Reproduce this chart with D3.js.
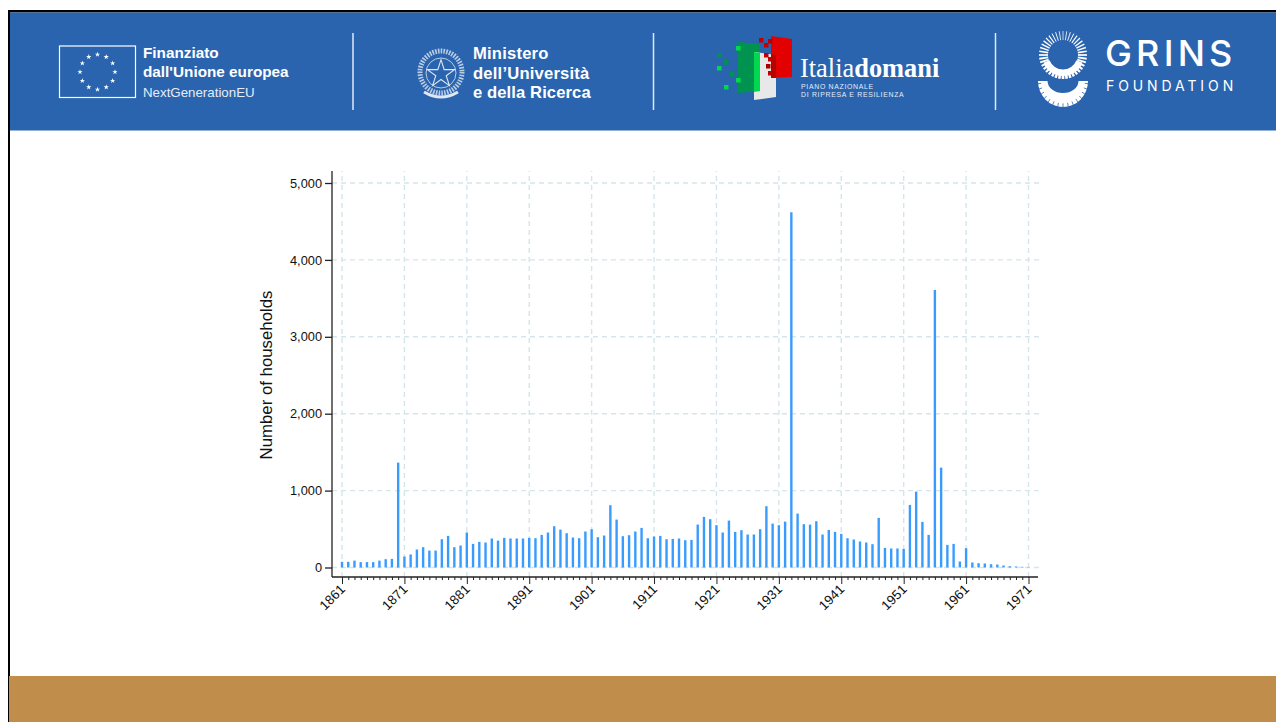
<!DOCTYPE html>
<html>
<head>
<meta charset="utf-8">
<script src="https://cdn.jsdelivr.net/npm/d3@7"></script>
<style>
html,body{margin:0;padding:0;background:#fff;}
svg{display:block;}
</style>
</head>
<body>
<div id="container"></div>
<script>
// households per year
const years = d3.range(1861, 1972);
const households = [
  74,74,90,70,70,70,90,108,112,1364,
  143,170,234,264,220,220,368,411,264,286,
  455,307,333,325,377,350,385,377,377,377,
  385,381,424,455,537,493,446,390,381,468,
  498,394,416,810,623,407,420,468,515,381,
  403,411,368,372,377,355,359,558,658,628,
  550,455,610,463,485,429,429,498,797,571,
  550,597,4620,701,563,558,602,429,489,463,
  437,381,364,338,325,303,645,255,247,247,
  242,814,987,593,424,3608,1299,294,307,78,
  251,65,56,52,43,39,26,17,13,9,4
];
const yTicks = [0,1000,2000,3000,4000,5000];
const xTicks = [1861,1871,1881,1891,1901,1911,1921,1931,1941,1951,1961,1971];
const yTitle = "Number of households";

const W = 1276, H = 722;
const blue = "#2a64ae", barColor = "#3a9bff", gridColor = "#d5e5ea";
const sans = "Liberation Sans";

let svg = d3.select("#container").append("svg")
  .attr("width", W).attr("height", H);

// page frame
svg.append("rect").attr("width", W).attr("height", H).attr("fill", "#fff");
svg.append("rect").attr("x", 8).attr("y", 10).attr("width", W).attr("height", H).attr("fill", "#000");
svg.append("rect").attr("x", 10).attr("y", 12.5).attr("width", W).attr("height", H).attr("fill", "#fff");
svg.append("rect").attr("x", 10).attr("y", 12.5).attr("width", W).attr("height", 118).attr("fill", blue);
svg.append("rect").attr("x", 9).attr("y", 676).attr("width", W).attr("height", 46).attr("fill", "#c08e4a");

// separators
[353, 653.5, 995.5].forEach(x => {
  svg.append("line").attr("x1", x).attr("x2", x).attr("y1", 33).attr("y2", 110)
    .attr("stroke", "#dfe8f3").attr("stroke-width", 1.5);
});

function headerText(str, x, y, size, weight, fill, font, spacing) {
  return svg.append("text").text(str).attr("x", x).attr("y", y)
    .attr("font-size", size).attr("font-weight", weight).attr("fill", fill || "#fff")
    .attr("letter-spacing", spacing || 0)
    .style("font-family", font || sans);
}

// EU flag
svg.append("rect").attr("x", 59.5).attr("y", 46).attr("width", 76).attr("height", 51.5)
  .attr("fill", "none").attr("stroke", "#fff").attr("stroke-width", 1.2);
const star = d3.symbol().type(d3.symbolStar).size(9);
d3.range(12).forEach(i => {
  let a = i * Math.PI / 6;
  svg.append("path").attr("d", star)
    .attr("transform", `translate(${97.5 + 17.5 * Math.sin(a)},${72 - 17.5 * Math.cos(a)})`)
    .attr("fill", "#fff");
});
headerText("Finanziato", 143, 58, 15.3, "bold");
headerText("dall'Unione europea", 143, 77, 15.3, "bold");
headerText("NextGenerationEU", 143, 97, 13.3, "normal", "#e6edf6");

// emblem
const emblem = svg.append("g").attr("fill", "none").attr("stroke", "#dfe7f2");
emblem.append("circle").attr("cx", 441).attr("cy", 72).attr("r", 21).attr("stroke-width", 5).attr("stroke-dasharray", "1.6 1.2").attr("opacity", .8);
emblem.append("circle").attr("cx", 441).attr("cy", 73).attr("r", 15).attr("stroke-width", .8);
emblem.append("path").attr("d", d3.symbol().type(d3.symbolStar).size(230))
  .attr("transform", "translate(441,74)").attr("stroke-width", 1.1);
emblem.append("path").attr("d", "M424 92 Q441 102 458 92").attr("stroke-width", 3);
headerText("Ministero", 473, 59, 16.6, "bold", "#fff", sans, .2);
headerText("dell\u2019Università", 473, 78.5, 16.6, "bold", "#fff", sans, .2);
headerText("e della Ricerca", 473, 97.8, 16.6, "bold", "#fff", sans, .1);

// Italia domani mark
const flagBlocks = [
  ["#00924f","M738 42 L760 44 L760 91 L738 93 Z"],
  ["#e8e8e8","M754 52 L776 55 L776 97 L754 100 Z"],
  ["#00d84f","M754 52 L760 53 L760 91 L754 92 Z"],
  ["#e30000","M771 36 L792 39 L792 77 L771 78 Z"],
  ["#b80000","M771 54 L776 55 L776 78 L771 78 Z"]
];
flagBlocks.forEach(d => svg.append("path").attr("d", d[1]).attr("fill", d[0]));
const pixels = [
  ["#00d84f",736,46],["#00924f",717,53],["#00924f",724,60],["#00d84f",717,66],["#00924f",730,72],["#00d84f",736,78],["#00d84f",724,85],
  ["#c00000",759,38],["#b80000",768,39],["#c00000",764,43],["#c00000",764,53],["#c00000",768,57],["#a80000",766,64],["#c00000",768,71]
];
pixels.forEach(d => svg.append("rect").attr("x", d[1]).attr("y", d[2]).attr("width", 4.5).attr("height", 4.5).attr("fill", d[0]));
svg.append("text").attr("x", 800).attr("y", 77).attr("font-size", 26.4).attr("fill", "#fff")
  .style("font-family", "Liberation Serif")
  .html('Italia<tspan font-weight="bold">domani</tspan>');
headerText("PIANO NAZIONALE", 801, 89, 6.9, "normal", "#e6edf6", sans, .7);
headerText("DI RIPRESA E RESILIENZA", 801, 97, 6.9, "normal", "#e6edf6", sans, .7);

// GRINS mark: ring with rays, and a U below
const grins = svg.append("g").attr("fill", "#fff");
const cx = 1063, cy = 55;
d3.range(0, 360, 9).forEach(deg => {
  let off = Math.abs(deg > 180 ? 360 - deg : deg);
  let r = deg * Math.PI / 180;
  grins.append("line")
    .attr("x1", cx + 15 * Math.sin(r)).attr("y1", cy - 15 * Math.cos(r))
    .attr("x2", cx + 24 * Math.sin(r)).attr("y2", cy - 24 * Math.cos(r))
    .attr("stroke", "#fff").attr("stroke-width", 0.7 + 2 * off / 180);
});
grins.append("path")
  .attr("d", d3.arc().innerRadius(14.5).outerRadius(21).startAngle(Math.PI * 0.62).endAngle(Math.PI * 1.38)())
  .attr("transform", `translate(${cx},${cy})`);
grins.append("path").attr("d", "M1038 81 L1047.5 81 A15.5 12 0 0 0 1078.5 81 L1088 81 A25 26 0 0 1 1038 81 Z");
d3.range(-84, 85, 12).forEach(a => {
  let r = a * Math.PI / 180;
  grins.append("line")
    .attr("x1", cx + 25.5 * Math.sin(r) * 0.86).attr("y1", 81 + 26 * Math.cos(r) * 0.86)
    .attr("x2", cx + 26 * Math.sin(r)).attr("y2", 81 + 27 * Math.cos(r))
    .attr("stroke", blue).attr("stroke-width", 0.8);
});
headerText("GRINS", 1105, 65.5, 36, "500", "#fff", "Inter", 4.2);
headerText("FOUNDATION", 1106, 91, 14, "normal", "#fff", "Inter", 3.9);

// chart
const x = d3.scaleLinear().domain([1861, 1971]).range([342, 1028.5]);
const y = d3.scaleLinear().domain([0, 5000]).range([567.5, 183]);
const axisLeft = 332, axisBottom = 577, axisRight = 1038, axisTop = 171;

svg.append("g").selectAll("line").data(yTicks).enter().append("line")
  .attr("x1", axisLeft).attr("x2", 1040)
  .attr("y1", d => y(d)).attr("y2", d => y(d))
  .attr("stroke", gridColor).attr("stroke-width", 1.4).attr("stroke-dasharray", "5 4");
svg.append("g").selectAll("line").data(xTicks).enter().append("line")
  .attr("x1", d => x(d)).attr("x2", d => x(d))
  .attr("y1", axisBottom).attr("y2", axisTop)
  .attr("stroke", gridColor).attr("stroke-width", 1.4).attr("stroke-dasharray", "5 4");

svg.append("g").selectAll("line").data(years).enter().append("line")
  .attr("x1", d => x(d)).attr("x2", d => x(d))
  .attr("y1", y(0))
  .attr("y2", (d, i) => y(households[i]))
  .attr("stroke", barColor).attr("stroke-width", 2.4);

// axes
let yAxis = svg.append("g").attr("transform", `translate(${axisLeft},0)`)
  .call(d3.axisLeft(y).tickValues(yTicks).tickSize(7).tickPadding(3).tickFormat(d3.format(",")));
yAxis.select(".domain").attr("d", `M0,${axisBottom}V${axisTop}`).attr("stroke", "#222").attr("stroke-width", 1.3);
yAxis.selectAll(".tick line").attr("stroke", "#222").attr("stroke-width", 1.3);
yAxis.selectAll("text").attr("font-size", 12.8).attr("fill", "#111").style("font-family", sans);

let xAxis = svg.append("g").attr("transform", `translate(0,${axisBottom})`)
  .call(d3.axisBottom(x).tickValues(years).tickSize(3).tickFormat(""));
xAxis.select(".domain").attr("d", `M${axisLeft},0H${axisRight}`).attr("stroke", "#222").attr("stroke-width", 1.3);
xAxis.selectAll(".tick line").attr("stroke", "#222").attr("stroke-width", 1);
xAxis.selectAll(".tick").filter(d => xTicks.includes(d)).select("line").attr("y2", 7);

svg.append("g").selectAll("text").data(xTicks).enter().append("text")
  .text(d => d)
  .attr("transform", d => `translate(${x(d) + 4},${axisBottom + 13}) rotate(-45)`)
  .attr("text-anchor", "end")
  .attr("font-size", 13.3).attr("fill", "#111")
  .style("font-family", sans);

svg.append("text").text(yTitle)
  .attr("transform", "translate(272,375) rotate(-90)")
  .attr("text-anchor", "middle")
  .attr("font-size", 16.8).attr("fill", "#111")
  .style("font-family", sans);
</script>
</body>
</html>
